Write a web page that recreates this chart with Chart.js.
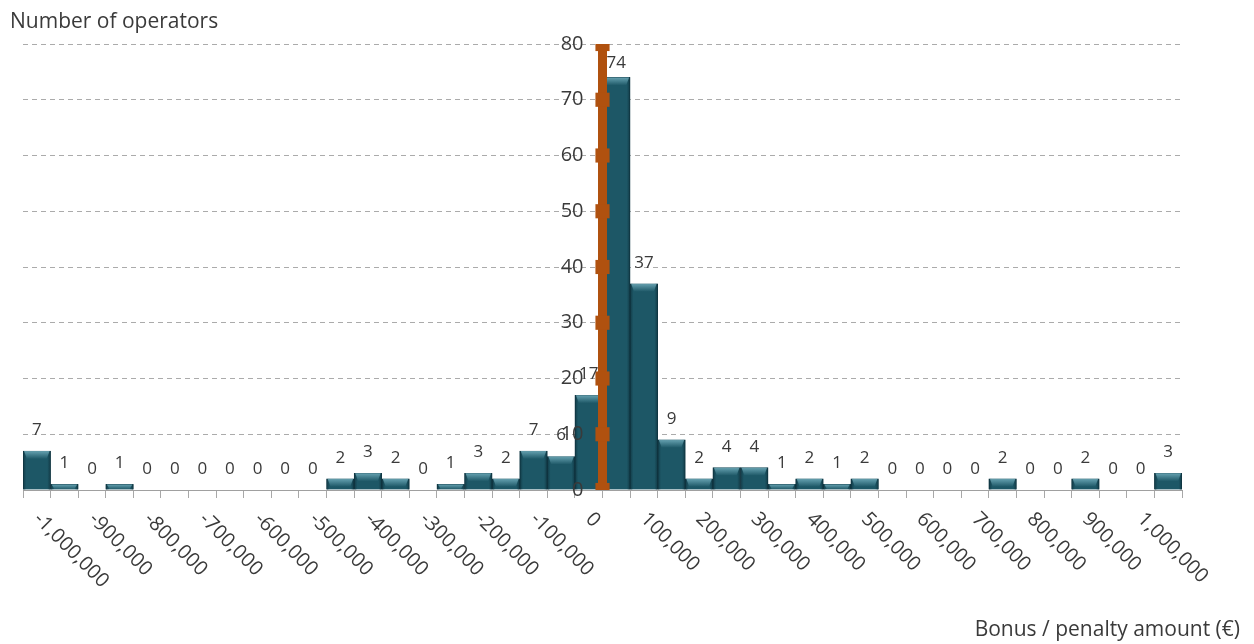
<!DOCTYPE html>
<html>
<head>
<meta charset="utf-8">
<script src="https://cdn.jsdelivr.net/npm/chart.js@4.4.1/dist/chart.umd.min.js"></script>
<style>
  html, body { margin: 0; padding: 0; background: #ffffff; }
  #wrap { position: relative; width: 1254px; height: 644px; }
</style>
</head>
<body>
<div id="wrap"><canvas id="chart" width="1254" height="644"></canvas></div>
<script>
// Histogram bins (lower bound of each 50,000 € class)
const binStarts = [
  -1000000, -950000, -900000, -850000, -800000, -750000, -700000,
  -650000, -600000, -550000, -500000, -450000, -400000, -350000,
  -300000, -250000, -200000, -150000, -100000, -50000, 0,
  50000, 100000, 150000, 200000, 250000, 300000, 350000,
  400000, 450000, 500000, 550000, 600000, 650000, 700000,
  750000, 800000, 850000, 900000, 950000, 1000000, 1050000
];

// Number of operators in each bin
const operators = [
  7, 1, 0, 1, 0, 0, 0,
  0, 0, 0, 0, 2, 3, 2,
  0, 1, 3, 2, 7, 6, 17,
  74, 37, 9, 2, 4, 4, 1,
  2, 1, 2, 0, 0, 0, 0,
  2, 0, 0, 2, 0, 0, 3
];

// Labels written under every second bin
const tickLabels = [
  '-1,000,000', '-900,000', '-800,000', '-700,000', '-600,000',
  '-500,000', '-400,000', '-300,000', '-200,000', '-100,000',
  '0', '100,000', '200,000', '300,000', '400,000', '500,000',
  '600,000', '700,000', '800,000', '900,000', '1,000,000'
];

// Vertical axis ticks (also the marker points of the zero line)
const yTicks = [0, 10, 20, 30, 40, 50, 60, 70, 80];

// The value axis crosses between the "0" bin and the next one
const axisCross = 20.5;

const yTitle = 'Number of operators';
const xTitle = 'Bonus / penalty amount (\u20AC)';

const FONT = '"Open Sans", "DejaVu Sans", sans-serif';
const TEXT = '#3a3a3a';

// Bevel shading on top of the flat bar fill
const barShading = {
  id: 'barShading',
  afterDatasetDraw(chart, args) {
    if (args.index !== 0) return;
    const ctx = chart.ctx;
    const meta = chart.getDatasetMeta(0);
    ctx.save();
    meta.data.forEach((bar) => {
      const h = bar.base - bar.y;
      if (h <= 0.5) return;
      const left = bar.x - bar.width / 2;
      const right = bar.x + bar.width / 2;
      // darker side edges
      const side = ctx.createLinearGradient(left, 0, right, 0);
      side.addColorStop(0, 'rgba(8,35,45,0.55)');
      side.addColorStop(0.12, 'rgba(8,35,45,0.0)');
      side.addColorStop(0.88, 'rgba(8,35,45,0.0)');
      side.addColorStop(1, 'rgba(8,35,45,0.55)');
      ctx.fillStyle = side;
      ctx.fillRect(left, bar.y, bar.width, h);
      // light cap at the top
      const capH = Math.min(8, h);
      const cap = ctx.createLinearGradient(0, bar.y, 0, bar.y + capH);
      cap.addColorStop(0, 'rgba(120,180,195,0.8)');
      cap.addColorStop(1, 'rgba(120,180,195,0.0)');
      ctx.fillStyle = cap;
      ctx.beginPath();
      ctx.moveTo(left + 1, bar.y);
      ctx.lineTo(right - 1, bar.y);
      ctx.lineTo(right - 4, bar.y + capH);
      ctx.lineTo(left + 4, bar.y + capH);
      ctx.closePath();
      ctx.fill();
    });
    ctx.restore();
  }
};

// Value labels, axis tick labels and axis titles
const annotations = {
  id: 'annotations',
  afterDatasetsDraw(chart) {
    const ctx = chart.ctx;
    const area = chart.chartArea;
    const meta = chart.getDatasetMeta(0);
    ctx.save();
    ctx.fillStyle = TEXT;
    ctx.font = '17px ' + FONT;
    ctx.textAlign = 'center';
    ctx.textBaseline = 'middle';
    meta.data.forEach((bar, i) => {
      const ly = Math.max(bar.y - 21, area.top + 19);
      ctx.fillText(String(operators[i]), bar.x, ly);
    });
    ctx.restore();
  },
  afterDraw(chart) {
    const ctx = chart.ctx;
    const xs = chart.scales.x;
    const ys = chart.scales.y;
    const xl = chart.scales.xLine;
    const area = chart.chartArea;
    ctx.save();
    ctx.fillStyle = TEXT;

    // value axis numbers, left of the crossing line
    ctx.font = '20px ' + FONT;
    ctx.textAlign = 'right';
    ctx.textBaseline = 'middle';
    const ax = xl.getPixelForValue(axisCross);
    yTicks.forEach((v) => {
      ctx.fillText(String(v), ax - 19, ys.getPixelForValue(v));
    });

    // slanted bin labels
    ctx.font = '20px ' + FONT;
    ctx.textAlign = 'left';
    tickLabels.forEach((lbl, k) => {
      const px = xs.getPixelForValue(k * 2);
      ctx.save();
      ctx.translate(px, area.bottom + 26);
      ctx.rotate(Math.PI / 4);
      ctx.fillText(lbl, 0, 0);
      ctx.restore();
    });

    ctx.font = '21px ' + FONT;
    ctx.textAlign = 'left';
    ctx.fillText(yTitle, 10, 22);
    ctx.textAlign = 'right';
    ctx.fillText(xTitle, 1240, 630);
    ctx.restore();
  }
};

new Chart(document.getElementById('chart'), {
  type: 'bar',
  data: {
    labels: binStarts.map(String),
    datasets: [
      {
        type: 'bar',
        data: operators,
        backgroundColor: '#1d5766',
        borderColor: '#14404d',
        borderWidth: 1,
        grouped: false,
        barPercentage: 1.0,
        categoryPercentage: 1.0,
        order: 1
      },
      {
        type: 'line',
        xAxisID: 'xLine',
        data: yTicks.map((v) => ({ x: axisCross, y: v })),
        borderColor: '#b0510f',
        borderWidth: 9,
        pointStyle: 'rect',
        pointRadius: 10,
        pointBackgroundColor: '#b0510f',
        pointBorderWidth: 0,
        order: 0
      }
    ]
  },
  options: {
    responsive: false,
    animation: false,
    events: [],
    layout: { padding: { left: 23, right: 72, top: 44, bottom: 146 } },
    plugins: { legend: { display: false }, tooltip: { enabled: false } },
    scales: {
      x: {
        type: 'category',
        offset: true,
        grid: {
          offset: true,
          drawOnChartArea: false,
          drawTicks: true,
          tickLength: 8,
          tickColor: '#a8a8a8'
        },
        border: { display: true, color: '#a0a0a0', width: 1 },
        ticks: { display: false },
        afterFit: (s) => { s.height = 8; }
      },
      xLine: {
        type: 'linear',
        min: -0.5,
        max: binStarts.length - 0.5,
        display: false
      },
      y: {
        type: 'linear',
        position: { xLine: axisCross },
        min: 0,
        max: 80,
        ticks: { stepSize: 10, display: false },
        grid: {
          drawTicks: false,
          color: (c) => (c.tick && c.tick.value === 0 ? 'rgba(0,0,0,0)' : '#ababab'),
          lineWidth: 1
        },
        border: { display: false, dash: [5, 4] }
      }
    }
  },
  plugins: [barShading, annotations]
});
</script>
</body>
</html>
